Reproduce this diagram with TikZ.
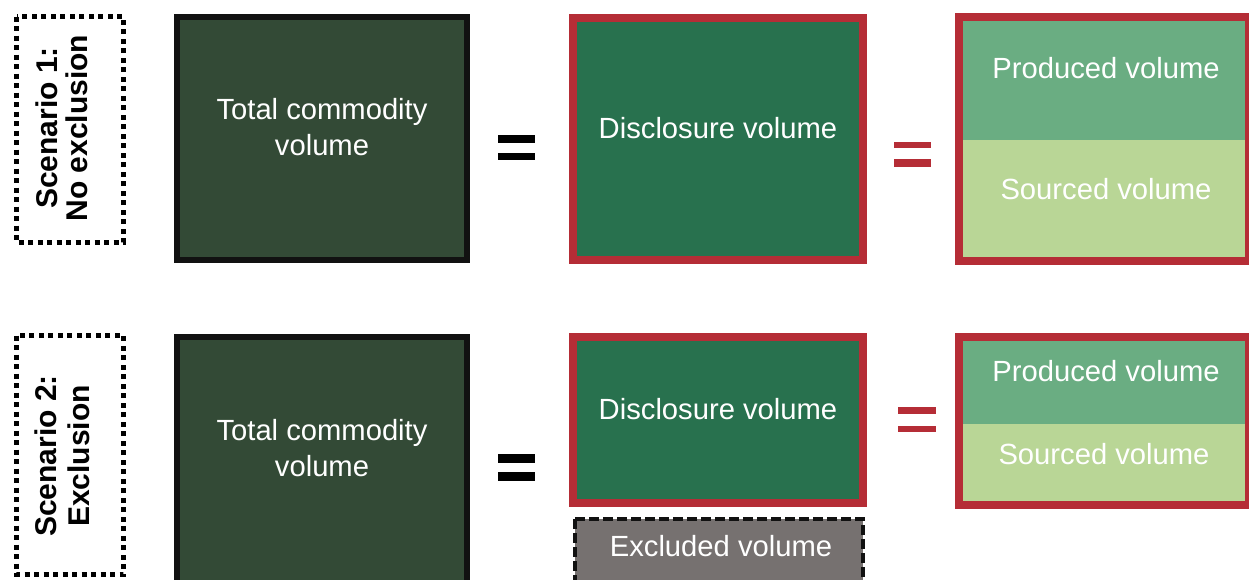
\documentclass[tikz,border=0pt]{standalone}
\usepackage{fontspec}
\setmainfont{Liberation Sans}
\definecolor{totalfill}{RGB}{51,74,54}
\definecolor{edgeblack}{RGB}{17,17,17}
\definecolor{disclfill}{RGB}{40,113,78}
\definecolor{edgered}{RGB}{181,45,54}
\definecolor{prodfill}{RGB}{106,173,130}
\definecolor{srcfill}{RGB}{185,214,150}
\definecolor{exclfill}{RGB}{118,113,112}
\tikzset{
  totalbox/.style={fill=totalfill, draw=edgeblack, line width=6pt},
  disclbox/.style={fill=disclfill, draw=edgered, line width=8pt},
  splitframe/.style={draw=edgered, line width=8pt},
  exclbox/.style={fill=exclfill, draw=edgeblack, line width=3.5pt, dash pattern=on 10pt off 4pt},
  scenbox/.style={draw=black, line width=5pt, dash pattern=on 5pt off 4.5pt},
  eqblack/.style={fill=black},
  eqred/.style={fill=edgered},
  bodytext/.style={text=white, font=\fontsize{29.2}{36}\selectfont, inner sep=0pt},
  scentext/.style={text=black, font=\bfseries\fontsize{30}{30}\selectfont, inner sep=0pt, rotate=90, align=center},
}
\begin{document}
\begin{tikzpicture}[x=1pt, y=-1pt]
\useasboundingbox (0,0) rectangle (1249,579);

% ---------- Scenario 1 ----------
\draw[scenbox] (16.5,16.5) rectangle (123.5,242.5);
\node[scentext] (s1) at (62,128) {Scenario 1:\\No exclusion};

\draw[totalbox] (177,17) rectangle (467,260);
\node[bodytext, align=center] (t1) at (322,127.5) {Total commodity\\volume};

\fill[eqblack] (498,135) rectangle (535,143);
\fill[eqblack] (498,153) rectangle (535,160);

\draw[disclbox] (573,18) rectangle (863,260);
\node[bodytext, anchor=base] (d1) at (718,138) {Disclosure volume};

\fill[eqred] (894,142) rectangle (931,148);
\fill[eqred] (894,159) rectangle (931,167);

\fill[prodfill] (963,21) rectangle (1245,140);
\fill[srcfill] (963,140) rectangle (1245,257);
\draw[splitframe] (959,17) rectangle (1249,261);
\node[bodytext, anchor=base] (p1) at (1106,78) {Produced volume};
\node[bodytext, anchor=base] (q1) at (1106,199) {Sourced volume};

% ---------- Scenario 2 ----------
\draw[scenbox] (16.5,335.5) rectangle (123.5,574.5);
\node[scentext, font=\bfseries\fontsize{30}{33}\selectfont] (s2) at (62,456) {Scenario 2:\\Exclusion};

\draw[totalbox] (177,337) rectangle (467,600);
\node[bodytext, align=center] (t2) at (322,448.5) {Total commodity\\volume};

\fill[eqblack] (498,454) rectangle (535,463);
\fill[eqblack] (498,472) rectangle (535,481);

\draw[disclbox] (573,337) rectangle (863,503);
\node[bodytext, anchor=base] (d2) at (718,419) {Disclosure volume};

\draw[exclbox] (575,519) rectangle (863,600);
\node[bodytext, anchor=base] (e2) at (721,556) {Excluded volume};

\fill[eqred] (898,407) rectangle (936,414);
\fill[eqred] (898,426) rectangle (936,432);

\fill[prodfill] (963,341) rectangle (1245,424);
\fill[srcfill] (963,424) rectangle (1245,501);
\draw[splitframe] (959,337) rectangle (1249,505);
\node[bodytext, anchor=base] (p2) at (1106,381) {Produced volume};
\node[bodytext, anchor=base] (q2) at (1104,464) {Sourced volume};
\end{tikzpicture}
\end{document}
